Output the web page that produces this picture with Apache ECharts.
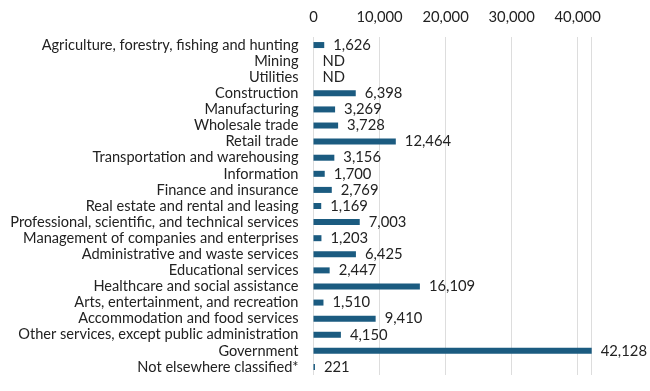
<!DOCTYPE html>
<html><head><meta charset="utf-8">
<script src="https://cdn.jsdelivr.net/npm/echarts@6/dist/echarts.min.js"></script>
<style>html,body{margin:0;padding:0;background:#fff}#c{width:650px;height:391px}</style>
</head><body><div id="c"></div>
<script>
const categories = ["Agriculture, forestry, fishing and hunting","Mining","Utilities","Construction","Manufacturing","Wholesale trade","Retail trade","Transportation and warehousing","Information","Finance and insurance","Real estate and rental and leasing","Professional, scientific, and technical services","Management of companies and enterprises","Administrative and waste services","Educational services","Healthcare and social assistance","Arts, entertainment, and recreation","Accommodation and food services","Other services, except public administration","Government","Not elsewhere classified*"];
const values = [1626,null,null,6398,3269,3728,12464,3156,1700,2769,1169,7003,1203,6425,2447,16109,1510,9410,4150,42128,221];
const tickLabels = ["0","10,000","20,000","30,000","40,000"];

const chart = echarts.init(document.getElementById('c'), null, {renderer:'canvas'});
const fmt = v => v.toString().replace(/\B(?=(\d{3})+(?!\d))/g, ',');
chart.setOption({
  animation:false,
  textStyle:{fontFamily:'Lato'},
  grid:{left:313.5, top:37, width:278.2, height:338, containLabel:false},
  xAxis:{type:'value', position:'top', min:0, max:42128, interval:10000,
    axisLine:{show:false}, axisTick:{show:false},
    splitLine:{lineStyle:{color:'#dddddd', width:1}},
    axisLabel:{fontFamily:'Lato', fontSize:14.8, color:'#222', margin:12, showMaxLabel:false,
      formatter:(v)=>{const i=Math.round(v/10000); return (v%10000===0 && i<tickLabels.length)?tickLabels[i]:'';}}
  },
  yAxis:{type:'category', inverse:true, data:categories,
    axisLine:{show:false}, axisTick:{show:false},
    axisLabel:{interval:0, fontFamily:'Lato', fontSize:14.6, color:'#222', margin:15}
  },
  series:[{type:'bar', barWidth:6,
    data: values.map(v => v===null ? 0 : v),
    itemStyle:{color:'#1b5b80'},
    label:{show:true, position:'right', distance:9, fontFamily:'Lato', fontSize:14.8, color:'#222',
      formatter:(p)=> values[p.dataIndex]===null ? 'ND' : fmt(values[p.dataIndex])}
  }]
});
</script></body></html>
